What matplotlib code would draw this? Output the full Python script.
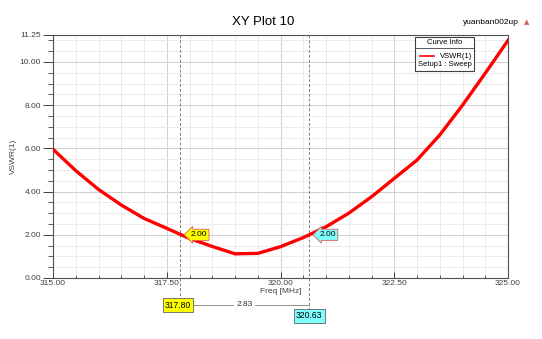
import matplotlib
matplotlib.use('Agg')
import matplotlib.pyplot as plt
from matplotlib.patches import Rectangle
from matplotlib.lines import Line2D
from matplotlib.ticker import MultipleLocator
import matplotlib.transforms as mtransforms

plt.rcParams['font.family'] = ['Liberation Sans', 'DejaVu Sans']

# data
freq = [315.0, 315.5, 316.0, 316.5, 317.0, 317.5, 318.0, 318.5, 319.0, 319.5,
        320.0, 320.5, 321.0, 321.5, 322.0, 322.5, 323.0, 323.5, 324.0, 324.5, 325.0]
vswr = [5.96, 4.97, 4.10, 3.38, 2.76, 2.30, 1.83, 1.46, 1.12, 1.14,
        1.45, 1.87, 2.37, 3.00, 3.76, 4.61, 5.46, 6.62, 8.00, 9.48, 11.0]
marker_x = [317.80, 320.63]
marker_y = [2.00, 2.00]
y_ticks = [0, 2, 4, 6, 8, 10, 11.25]
x_ticks = [315, 317.5, 320, 322.5, 325]

fig = plt.figure(figsize=(5.42, 3.39), dpi=100)
ax = fig.add_axes([53/542, 61/339, 455/542, 243/339])

ax.set_xlim(315, 325)
ax.set_ylim(0, 11.25)
ax.set_xticks(x_ticks)
ax.set_yticks(y_ticks)
ax.xaxis.set_minor_locator(MultipleLocator(0.5))
ax.yaxis.set_minor_locator(MultipleLocator(0.5))
ax.set_xticklabels(['%.2f' % v for v in x_ticks])
ax.set_yticklabels(['%.2f' % v for v in y_ticks])
ax.tick_params(axis='y', which='major', labelsize=6, colors='#404040', length=7, width=0.7, pad=1.5)
ax.tick_params(axis='y', which='minor', colors='#404040', length=3.5, width=0.6)
ax.tick_params(axis='x', which='major', labelsize=6, colors='#404040', direction='in',
               length=4, width=0.7, pad=1.5)
ax.tick_params(axis='x', which='minor', colors='#404040', direction='in', length=2, width=0.6)
ax.grid(which='major', color='#d0d0d0', lw=0.7)
ax.grid(which='minor', color='#e8e8e8', lw=0.6)
for s in ax.spines.values():
    s.set_color('#505050')
    s.set_linewidth(0.8)

ax.plot(freq, vswr, color='#ff0000', lw=2.4, zorder=5)

ax.set_xlabel('Freq [MHz]', fontsize=6, color='#404040')
ax.set_ylabel('VSWR(1)', fontsize=6, color='#404040')
ax.xaxis.set_label_coords(0.5, -(288 - 278) / 243)
ax.yaxis.set_label_coords(-(53 - 17) / 455, 0.5)

fig.text(263/542, 1 - 22/339, 'XY Plot 10', ha='center', va='center', fontsize=9.5)
fig.text(491/542, 1 - 22/339, 'yuanban002up', ha='center', va='center', fontsize=6)
fig.text(527/542, 1 - 22/339, '\u25b2', ha='center', va='center', fontsize=5,
         color='#d06060', family='DejaVu Sans')

# markers
trans = mtransforms.blended_transform_factory(ax.transData, ax.transAxes)
ends = [(300 - 278) / 243, (311 - 278) / 243]
for mx, e in zip(marker_x, ends):
    ax.plot([mx, mx], [1, -e], color='#808080', lw=0.7, ls=(0, (3, 2)),
            transform=trans, clip_on=False, zorder=3)

colors = ['#ffff00', '#80ffff']
for mx, my, c in zip(marker_x, marker_y, colors):
    ax.annotate('%.2f' % my, xy=(mx, my), xytext=(10, 0), textcoords='offset pixels',
                ha='left', va='center', fontsize=6, zorder=8,
                bbox=dict(boxstyle='larrow,pad=0.25', fc=c, ec='#e06050', lw=0.6))

yb = -(305 - 278) / 243
yc = -(316 - 278) / 243
ax.plot(marker_x, [yb, yb], color='#808080', lw=0.6, transform=trans, clip_on=False)
ax.text(sum(marker_x) / 2, yb, '%.2f' % (marker_x[1] - marker_x[0]), transform=trans,
        ha='center', va='center', fontsize=6, color='#303030',
        bbox=dict(boxstyle='square,pad=0.3', fc='white', ec='none'))
ax.text(marker_x[0] - 0.05, yb, '%.2f' % marker_x[0], transform=trans, ha='center', va='center',
        fontsize=6.2, zorder=8,
        bbox=dict(boxstyle='square,pad=0.25', fc='#ffff00', ec='#606060', lw=0.6))
ax.text(marker_x[1], yc, '%.2f' % marker_x[1], transform=trans, ha='center', va='center',
        fontsize=6.2, zorder=8,
        bbox=dict(boxstyle='square,pad=0.25', fc='#80ffff', ec='#606060', lw=0.6))

# curve info box
x0 = (415 - 53) / 455
x1 = (474 - 53) / 455
y0 = (278 - 71) / 243
y1 = (278 - 37) / 243
ax.add_patch(Rectangle((x0, y0), x1 - x0, y1 - y0, transform=ax.transAxes,
                       fc='white', ec='#404040', lw=0.8, zorder=9))
ysep = (278 - 48) / 243
ax.add_line(Line2D([x0, x1], [ysep, ysep], transform=ax.transAxes, color='#404040',
                   lw=0.6, zorder=10))
ax.text((x0 + x1) / 2, (278 - 42.5) / 243, 'Curve Info', transform=ax.transAxes,
        ha='center', va='center', fontsize=5.5, zorder=10)
ax.add_line(Line2D([(420 - 53) / 455, (434 - 53) / 455], [(278 - 56) / 243] * 2,
                   transform=ax.transAxes, color='#ff0000', lw=1.2, zorder=10))
ax.text((472 - 53) / 455, (278 - 56) / 243, 'VSWR(1)', transform=ax.transAxes,
        ha='right', va='center', fontsize=5.5, zorder=10)
ax.text((472 - 53) / 455, (278 - 65) / 243, 'Setup1 : Sweep', transform=ax.transAxes,
        ha='right', va='center', fontsize=5.5, zorder=10)

fig.savefig('out.png', dpi=100)
